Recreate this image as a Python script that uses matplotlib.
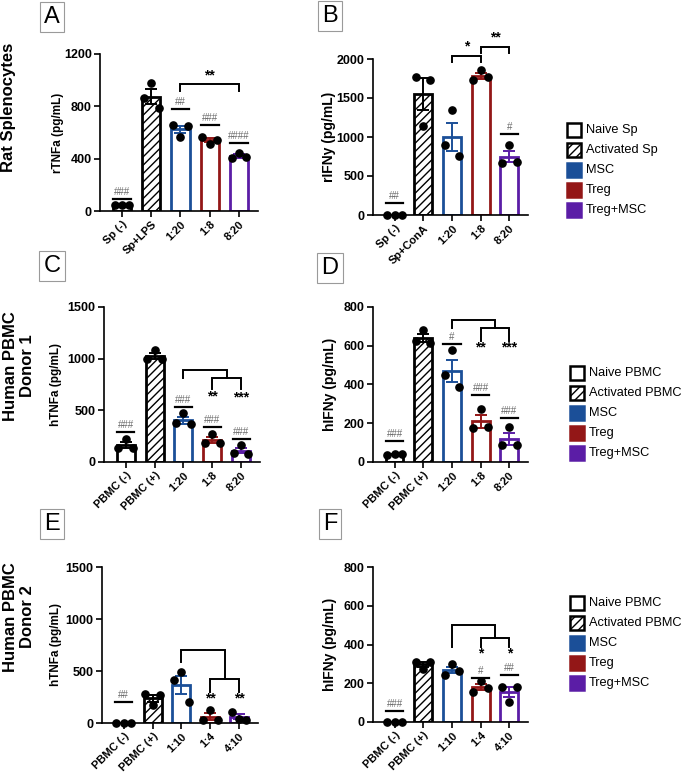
import numpy as np
import matplotlib
matplotlib.use('Agg')
import matplotlib.pyplot as plt
from matplotlib.patches import Rectangle

plt.rcParams['font.family'] = ['Liberation Sans', 'DejaVu Sans']
plt.rcParams['hatch.linewidth'] = 1.0

W, H = 688, 775

blue = '#1b4f98'
red = '#931717'
purple = '#5b1da6'
hash_gray = '#6a6a6a'

# ---- data ----
# Panel A: rat splenocytes, TNFa
a_labels = ['Sp (-)', 'Sp+LPS', '1:20', '1:8', '8:20']
a_points = [[45, 48, 45], [860, 975, 790], [655, 565, 650], [565, 515, 540], [405, 443, 413]]
a_hash = ['###', '', '##', '###', '####']
a_hash_y = [92, np.nan, 780, 657, 520]

# Panel B: rat splenocytes, IFNy
b_labels = ['Sp (-)', 'Sp+ConA', '1:20', '1:8', '8:20']
b_points = [[3, 3, 3], [1770, 1140, 1730], [897, 1346, 756], [1731, 1860, 1769], [667, 900, 680]]
b_hash = ['##', '', '', '', '#']
b_hash_y = [150, np.nan, np.nan, np.nan, 1038]

# Panel C: human PBMC donor 1, TNFa
c_labels = ['PBMC (-)', 'PBMC (+)', '1:20', '1:8', '8:20']
c_points = [[140, 220, 135], [1000, 1080, 995], [375, 470, 370], [180, 270, 180], [85, 168, 80]]
c_hash = ['###', '', '###', '###', '###']
c_hash_y = [290, np.nan, 532, 339, 223]
c_stars = ['', '', '', '**', '***']
c_star_y = [np.nan, np.nan, np.nan, 630, 620]

# Panel D: human PBMC donor 1, IFNy
d_labels = ['PBMC (-)', 'PBMC (+)', '1:20', '1:8', '8:20']
d_points = [[38, 42, 40], [625, 680, 615], [448, 577, 387], [175, 273, 180], [88, 180, 88]]
d_hash = ['###', '', '#', '###', '###']
d_hash_y = [108, np.nan, 608, 345, 227]
d_stars = ['', '', '', '**', '***']
d_star_y = [np.nan, np.nan, np.nan, 593, 593]

# Panel E: human PBMC donor 2, TNFa
e_labels = ['PBMC (-)', 'PBMC (+)', '1:10', '1:4', '4:10']
e_points = [[2, 2, 2], [275, 175, 265], [413, 490, 202], [30, 125, 30], [105, 40, 30]]
e_hash = ['##', '', '', '', '']
e_hash_y = [202, np.nan, np.nan, np.nan, np.nan]
e_stars = ['', '', '', '**', '**']
e_star_y = [np.nan, np.nan, np.nan, 240, 240]

# Panel F: human PBMC donor 2, IFNy
f_labels = ['PBMC (-)', 'PBMC (+)', '1:10', '1:4', '4:10']
f_points = [[2, 2, 2], [309, 273, 309], [242, 299, 263], [155, 211, 175], [180, 103, 180]]
f_hash = ['###', '', '', '#', '##']
f_hash_y = [57, np.nan, np.nan, 227, 242]
f_stars = ['', '', '', '*', '*']
f_star_y = [np.nan, np.nan, np.nan, 356, 356]

edge_colors = ['black', 'black', blue, red, purple]
hatches = [None, '////', None, None, None]

fig = plt.figure(figsize=(W / 100, H / 100), dpi=100)


def px_axes(left, top, right, bottom):
    return fig.add_axes([left / W, 1 - bottom / H, (right - left) / W, (bottom - top) / H])


def bracket(ax, x1, x2, y, b1, b2):
    ax.plot([x1, x1, x2, x2], [b1, y, y, b2], color='black', lw=1.4,
            clip_on=False, solid_joinstyle='miter', zorder=6)


def draw_panel(box, labels, points, ytop, ystep, ylabel, ylsize, ylx,
               hashes, hash_y, stars=None, star_y=None):
    ax = px_axes(*box)
    x = np.arange(len(labels))
    pts = [np.array(p, dtype=float) for p in points]
    means = np.array([p.mean() for p in pts])
    sems = np.array([p.std(ddof=1) / np.sqrt(len(p)) for p in pts])
    for i in x:
        ax.bar(i, means[i], width=0.62, facecolor='white', edgecolor=edge_colors[i],
               linewidth=2.0, hatch=hatches[i], zorder=2)
        ax.errorbar(i, means[i], yerr=sems[i], fmt='none', ecolor=edge_colors[i],
                    elinewidth=1.4, capsize=4, capthick=1.4, zorder=3)
        ax.plot(i + np.array([-0.25, 0, 0.25]), pts[i], 'o', color='black', ms=5.2,
                zorder=5, clip_on=False)
        if hashes[i]:
            ax.plot([i - 0.3, i + 0.3], [hash_y[i]] * 2, color='black', lw=1.6,
                    zorder=6, clip_on=False)
            ax.annotate(hashes[i], (i, hash_y[i]), xytext=(0, 1.5), textcoords='offset points',
                        ha='center', va='bottom', fontsize=7, color=hash_gray)
        if stars is not None and stars[i]:
            ax.text(i, star_y[i], stars[i], ha='center', va='center', fontsize=10,
                    fontweight='bold', clip_on=False)
    ax.set_xlim(-0.75, 4.65)
    ax.set_ylim(0, ytop)
    ax.set_yticks(np.arange(0, ytop + 1, ystep))
    ax.set_xticks(x)
    ax.set_xticklabels(labels, rotation=45, ha='right', va='top', rotation_mode='anchor')
    for s in ['top', 'right']:
        ax.spines[s].set_visible(False)
    for s in ['left', 'bottom']:
        ax.spines[s].set_linewidth(1.2)
    ax.spines['left'].set_bounds(0, ytop)
    ax.tick_params(width=1.2, length=4, labelsize=9, pad=2)
    for lbl in ax.get_xticklabels() + ax.get_yticklabels():
        lbl.set_fontweight('bold')
    for lbl in ax.get_xticklabels():
        lbl.set_fontsize(8)
    ax.set_ylabel(ylabel, fontsize=ylsize, fontweight='bold')
    ax.yaxis.set_label_coords(ylx, 0.5)
    return ax


axA = draw_panel((100, 54, 258, 211), a_labels, a_points, 1200, 400, 'rTNFa (pg/mL)', 8.5, -0.23,
                 a_hash, a_hash_y)
bracket(axA, 2, 4, 970, 917, 917)
axA.text(3, 985, '**', ha='center', va='bottom', fontsize=10, fontweight='bold')

axB = draw_panel((373, 59, 528, 215), b_labels, b_points, 2000, 500, 'rIFNy (pg/mL)', 10, -0.24,
                 b_hash, b_hash_y)
bracket(axB, 2, 3, 2040, 1960, 1960)
axB.text(2.5, 2070, '*', ha='center', va='bottom', fontsize=10, fontweight='bold')
bracket(axB, 3, 4, 2160, 2080, 2080)
axB.text(3.5, 2190, '**', ha='center', va='bottom', fontsize=10, fontweight='bold')


def nested(ax, y_big, left_bottom, y_small, small_bottom):
    bracket(ax, 3, 4, y_small, small_bottom, small_bottom)
    bracket(ax, 2, 3.5, y_big, left_bottom, y_small)


axC = draw_panel((104, 307, 260, 462), c_labels, c_points, 1500, 500, 'hTNFa (pg/mL)', 8.5, -0.27,
                 c_hash, c_hash_y, c_stars, c_star_y)
nested(axC, 890, 813, 813, 706)

axD = draw_panel((373, 307, 528, 462), d_labels, d_points, 800, 200, 'hIFNy (pg/mL)', 10, -0.23,
                 d_hash, d_hash_y, d_stars, d_star_y)
nested(axD, 732, 690, 690, 624)

axE = draw_panel((102, 567, 258, 723), e_labels, e_points, 1500, 500, 'hTNFa (pg/mL)', 8.5, -0.255,
                 e_hash, e_hash_y, e_stars, e_star_y)
nested(axE, 700, 587, 423, 298)

axF = draw_panel((373, 567, 528, 722), f_labels, f_points, 800, 200, 'hIFNy (pg/mL)', 10, -0.23,
                 f_hash, f_hash_y, f_stars, f_star_y)
nested(axF, 500, 387, 433, 387)

# panel letters
for letter, cx, cy in [('A', 52, 17), ('B', 330, 16), ('C', 52, 266),
                       ('D', 330, 268), ('E', 52, 524), ('F', 330, 524)]:
    fig.text(cx / W, 1 - cy / H, letter, fontsize=17, ha='center', va='center',
             bbox=dict(boxstyle='square,pad=0.18', facecolor='white', edgecolor='#9a9a9a', lw=0.8))

# row labels
fig.text(9 / W, 1 - 107 / H, 'Rat Splenocytes', rotation=90, ha='center', va='center',
         fontsize=12, fontweight='bold')
fig.text(19 / W, 1 - 366 / H, 'Human PBMC\nDonor 1', rotation=90, ha='center', va='center',
         fontsize=12, fontweight='bold', multialignment='center', linespacing=1.2)
fig.text(19 / W, 1 - 617 / H, 'Human PBMC\nDonor 2', rotation=90, ha='center', va='center',
         fontsize=12, fontweight='bold', multialignment='center', linespacing=1.2)

# legends
legend_face = ['white', 'white', blue, red, purple]
legend_edge = ['black', 'black', blue, red, purple]


def draw_legend(x0, y0, names):
    for i, name in enumerate(names):
        yc = y0 + 20 * i
        r = Rectangle((x0 / W, 1 - (yc + 7) / H), 14 / W, 14 / H, transform=fig.transFigure,
                      facecolor=legend_face[i], edgecolor=legend_edge[i], lw=1.8,
                      hatch=hatches[i])
        fig.patches.append(r)
        fig.text((x0 + 19) / W, 1 - yc / H, name, va='center', ha='left', fontsize=9.2)


draw_legend(567, 130, ['Naive Sp', 'Activated Sp', 'MSC', 'Treg', 'Treg+MSC'])
draw_legend(570, 373, ['Naive PBMC', 'Activated PBMC', 'MSC', 'Treg', 'Treg+MSC'])
draw_legend(570, 603, ['Naive PBMC', 'Activated PBMC', 'MSC', 'Treg', 'Treg+MSC'])

fig.savefig('out.png', dpi=100)
